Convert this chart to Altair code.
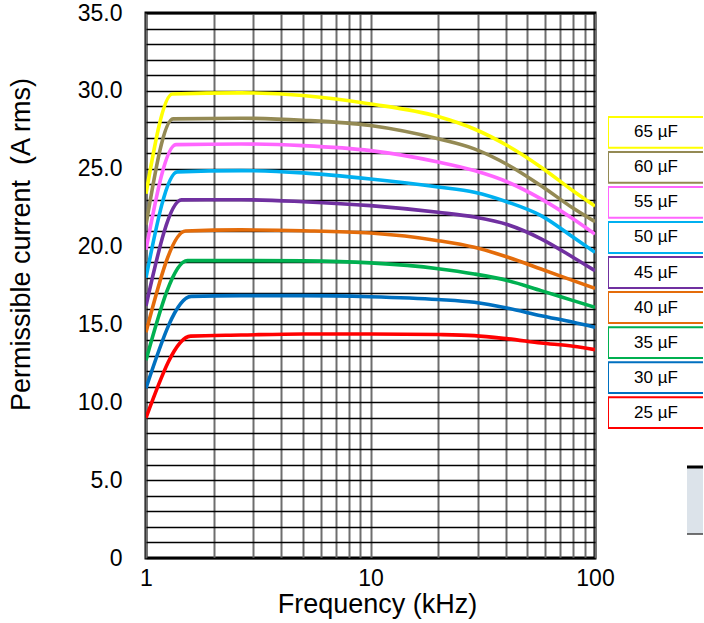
import altair as alt
import pandas as pd

# Film capacitor ripple-current rating vs frequency, one curve per capacitance
CAPS = ["65 µF", "60 µF", "55 µF", "50 µF", "45 µF", "40 µF", "35 µF", "30 µF", "25 µF"]
COLORS = ["#FFFF00", "#948A54", "#FF66FF", "#00B0F0", "#7030A0",
          "#E46C0A", "#00B050", "#0070C0", "#FF0000"]

# permissible current at 1 kHz (A rms)
START_1K = [23.4, 21.4, 19.8, 18.0, 16.2, 14.5, 12.7, 10.9, 9.0]
# end of the rising section: frequency (kHz) and current (A rms)
KNEE_KHZ = [1.31, 1.32, 1.36, 1.38, 1.44, 1.50, 1.53, 1.59, 1.58]
KNEE_A = [29.8, 28.2, 26.55, 24.8, 23.0, 21.0, 19.1, 16.8, 14.25]

# current on the plateau and roll-off, sampled at these frequencies (kHz)
FREQ_KHZ = [2.65, 5, 10, 20, 29, 41, 57.5, 80, 100]
CURRENT_65 = [29.87, 29.70, 29.16, 28.35, 27.55, 26.46, 25.10, 23.57, 22.60]
CURRENT_60 = [28.24, 28.11, 27.77, 26.92, 26.27, 25.24, 23.91, 22.46, 21.60]
CURRENT_55 = [26.59, 26.48, 26.16, 25.43, 24.88, 24.13, 23.06, 21.77, 20.80]
CURRENT_50 = [24.88, 24.73, 24.34, 23.83, 23.49, 22.85, 21.99, 20.60, 19.63]
CURRENT_45 = [23.01, 22.88, 22.63, 22.20, 21.90, 21.40, 20.50, 19.30, 18.45]
CURRENT_40 = [21.07, 21.02, 20.87, 20.38, 19.95, 19.31, 18.56, 17.81, 17.32]
CURRENT_35 = [19.10, 19.08, 18.95, 18.58, 18.24, 17.81, 17.17, 16.53, 16.10]
CURRENT_30 = [16.85, 16.85, 16.78, 16.60, 16.42, 16.04, 15.56, 15.14, 14.82]
CURRENT_25 = [14.32, 14.39, 14.39, 14.35, 14.28, 14.07, 13.81, 13.60, 13.38]
CURRENTS = [CURRENT_65, CURRENT_60, CURRENT_55, CURRENT_50, CURRENT_45,
            CURRENT_40, CURRENT_35, CURRENT_30, CURRENT_25]

X_GRID = [1, 2, 3, 4, 5, 6, 7, 8, 9, 10, 20, 30, 40, 50, 60, 70, 80, 90, 100]
Y_GRID = list(range(0, 36))

rows = []
for i, cap in enumerate(CAPS):
    rows.append({"cap": cap, "f": 1.0, "a": START_1K[i]})
    rows.append({"cap": cap, "f": KNEE_KHZ[i], "a": KNEE_A[i]})
    for f, a in zip(FREQ_KHZ, CURRENTS[i]):
        rows.append({"cap": cap, "f": f, "a": a})
curves = pd.DataFrame(rows)
caps_df = pd.DataFrame({"cap": CAPS})

FONT = "Liberation Sans"
color_scale = alt.Scale(domain=CAPS, range=COLORS)

main = alt.Chart(curves).mark_line(
    strokeWidth=3.6, interpolate="monotone", clip=True
).encode(
    x=alt.X("f:Q",
            scale=alt.Scale(type="log", domain=[1, 100], nice=False),
            axis=alt.Axis(values=X_GRID, title="Frequency (kHz)",
                          labelExpr="(datum.value == 1 || datum.value == 10 || datum.value == 100) ? format(datum.value, 'd') : ''",
                          ticks=False, domain=False, labelFlush=False,
                          grid=True, gridColor="#6e6e6e", gridWidth=2, gridOpacity=1,
                          labelFontSize=23, titleFontSize=27, labelColor="black",
                          titleColor="black", titleFontWeight="normal",
                          labelPadding=9, titlePadding=1, titleX=231)),
    y=alt.Y("a:Q",
            scale=alt.Scale(domain=[0, 35], nice=False),
            axis=alt.Axis(values=Y_GRID, title="Permissible current \u00a0(A rms)",
                          labelExpr="datum.value % 5 == 0 ? (datum.value == 0 ? '0' : format(datum.value, '.1f')) : ''",
                          ticks=False, domain=False, labelFlush=False,
                          grid=True, gridColor="black", gridWidth=1.4, gridOpacity=1,
                          labelFontSize=23, titleFontSize=27, labelColor="black",
                          titleColor="black", titleFontWeight="normal",
                          labelPadding=24, titlePadding=42, titleY=231)),
    color=alt.Color("cap:N", scale=color_scale, legend=None),
).properties(
    width=449, height=545,
    view=alt.ViewBackground(stroke="black", strokeWidth=3, strokeOpacity=1),
)

boxes = alt.Chart(caps_df).mark_rect(fill="white", strokeWidth=2, clip=True).encode(
    y=alt.Y("cap:N", sort=CAPS, axis=None,
            scale=alt.Scale(range=[104, 415], paddingInner=0.12, paddingOuter=0)),
    x=alt.value(0), x2=alt.value(140),
    stroke=alt.Stroke("cap:N", scale=color_scale, legend=None),
)
box_text = alt.Chart(caps_df).mark_text(
    fontSize=17, font=FONT, color="black", align="center", baseline="middle"
).encode(
    y=alt.Y("cap:N", sort=CAPS, axis=None),
    x=alt.value(48),
    text="cap:N",
)

# cut-off panel at the lower right edge
panel_fill = alt.Chart(caps_df.head(1)).mark_rect(fill="#DCE3EA", clip=True).encode(
    x=alt.value(79), x2=alt.value(140), y=alt.value(454), y2=alt.value(521))
panel_top = alt.Chart(caps_df.head(1)).mark_rule(color="black", strokeWidth=3, clip=True).encode(
    x=alt.value(79), x2=alt.value(140), y=alt.value(454))
panel_bottom = alt.Chart(caps_df.head(1)).mark_rule(color="#444444", strokeWidth=1.5, clip=True).encode(
    x=alt.value(79), x2=alt.value(140), y=alt.value(521))

legend = alt.layer(boxes, box_text, panel_fill, panel_top, panel_bottom).properties(
    width=95, height=545,
    view=alt.ViewBackground(strokeOpacity=0),
)

chart = alt.hconcat(main, legend, spacing=13, bounds="flush").properties(
    padding={"left": 5, "top": 0, "right": 0, "bottom": 0},
    background="white",
).configure(font=FONT).configure_view(strokeOpacity=0)

chart.save("out.html", embed_options={"renderer": "svg", "actions": False})
